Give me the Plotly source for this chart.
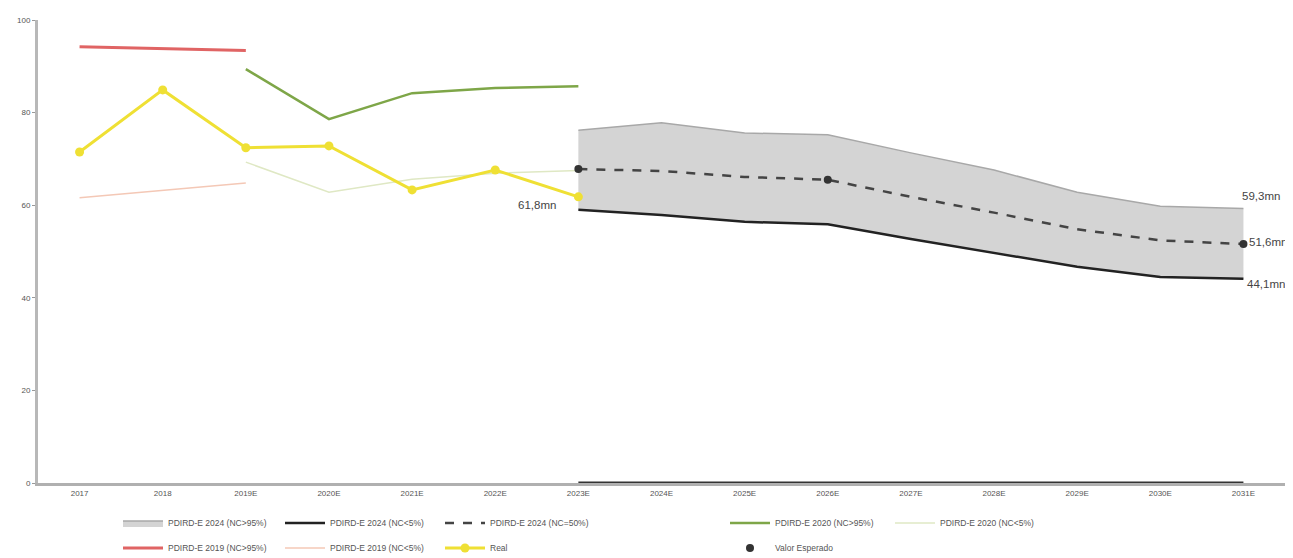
import plotly.graph_objects as go

years = ["2017", "2018", "2019E", "2020E", "2021E", "2022E", "2023E", "2024E",
         "2025E", "2026E", "2027E", "2028E", "2029E", "2030E", "2031E"]

hist_x = years[0:3]
p2019_hi = [94.2, 93.8, 93.4]
p2019_lo = [61.6, 63.2, 64.8]

p2020_x = years[2:7]
p2020_hi = [89.4, 78.6, 84.2, 85.3, 85.7]
p2020_lo = [69.3, 62.8, 65.6, 66.9, 67.5]

real_x = years[0:7]
real_v = [71.5, 84.9, 72.4, 72.8, 63.3, 67.6, 61.8]

fc_x = years[6:]
p2024_hi = [76.2, 77.8, 75.6, 75.2, 71.3, 67.6, 62.8, 59.8, 59.3]
p2024_lo = [59.0, 57.9, 56.4, 55.9, 52.7, 49.7, 46.7, 44.5, 44.1]
p2024_mid = [67.8, 67.4, 66.1, 65.5, 61.8, 58.4, 54.8, 52.4, 51.6]
base_v = [0, 0, 0, 0, 0, 0, 0, 0, 0]

exp_x = ["2023E", "2026E", "2031E"]
exp_v = [67.8, 65.5, 51.6]

fig = go.Figure()

fig.add_trace(go.Scatter(x=fc_x, y=base_v, mode="lines", showlegend=False,
                         line=dict(color="#333333", width=3), hoverinfo="skip"))
fig.add_trace(go.Scatter(x=fc_x, y=p2024_lo, mode="lines", name="PDIRD-E 2024 (NC<5%)",
                         legend="legend2", line=dict(color="#222222", width=2.5)))
fig.add_trace(go.Scatter(x=fc_x, y=p2024_hi, mode="lines", name="PDIRD-E 2024 (NC>95%)",
                         legend="legend", fill="tonexty", fillcolor="#d4d4d4",
                         line=dict(color="#a8a8a8", width=1.5)))
fig.add_trace(go.Scatter(x=fc_x, y=p2024_mid, mode="lines", name="PDIRD-E 2024 (NC=50%)",
                         legend="legend3", line=dict(color="#444444", width=2.5, dash="dash")))
fig.add_trace(go.Scatter(x=p2020_x, y=p2020_hi, mode="lines", name="PDIRD-E 2020 (NC>95%)",
                         legend="legend4", line=dict(color="#7ea648", width=2.5)))
fig.add_trace(go.Scatter(x=p2020_x, y=p2020_lo, mode="lines", name="PDIRD-E 2020 (NC<5%)",
                         legend="legend5", line=dict(color="#dfe8c4", width=1.5)))
fig.add_trace(go.Scatter(x=hist_x, y=p2019_hi, mode="lines", name="PDIRD-E 2019 (NC>95%)",
                         legend="legend6", line=dict(color="#e06464", width=3)))
fig.add_trace(go.Scatter(x=hist_x, y=p2019_lo, mode="lines", name="PDIRD-E 2019 (NC<5%)",
                         legend="legend7", line=dict(color="#f4c8b6", width=1.5)))
fig.add_trace(go.Scatter(x=real_x, y=real_v, mode="lines+markers", name="Real",
                         legend="legend8", line=dict(color="#efe034", width=3),
                         marker=dict(color="#efe034", size=9)))
fig.add_trace(go.Scatter(x=exp_x, y=exp_v, mode="markers", name="Valor Esperado",
                         legend="legend9", marker=dict(color="#333333", size=8)))

afont = dict(size=11.5, color="#444")
fig.add_annotation(x="2023E", y=real_v[-1], text="61,8mn", showarrow=False,
                   xanchor="right", xshift=-20, yshift=-8, font=afont)
fig.add_annotation(x="2031E", y=p2024_hi[-1], text="59,3mn", showarrow=False,
                   xanchor="left", xshift=-3, yshift=12, font=afont)
fig.add_annotation(x="2031E", y=p2024_mid[-1], text="51,6mn", showarrow=False,
                   xanchor="left", xshift=4, yshift=2, font=afont)
fig.add_annotation(x="2031E", y=p2024_lo[-1], text="44,1mn", showarrow=False,
                   xanchor="left", xshift=2, yshift=-5, font=afont)

# page body has an 8px margin: figure is drawn 8px right/down of the window corner
OFF = 8
W, H = 1293 - OFF, 558 - OFF
row1 = 1 - (523 - OFF) / H
row2 = 1 - (548 - OFF) / H
leg_pos = {
    "legend": (123, row1), "legend2": (285, row1), "legend3": (445, row1),
    "legend4": (730, row1), "legend5": (895, row1),
    "legend6": (123, row2), "legend7": (285, row2), "legend8": (445, row2),
    "legend9": (730, row2),
}
legs = {}
for k, (px, yy) in leg_pos.items():
    legs[k] = dict(xref="container", yref="container", x=(px - OFF - 5) / W, y=yy,
                   xanchor="left", yanchor="middle", orientation="h",
                   bgcolor="rgba(0,0,0,0)", itemwidth=40,
                   font=dict(size=8.5, color="#555555"))

fig.update_layout(
    width=W, height=H,
    margin=dict(l=38 - OFF, r=16 - OFF, t=20 - OFF, b=75),
    paper_bgcolor="white", plot_bgcolor="white",
    font=dict(family="Liberation Sans, Arial", size=8, color="#555555"),
    showlegend=True,
    **legs,
)
fig.update_xaxes(type="category", categoryorder="array", categoryarray=years,
                 range=[-0.5, 14.5], automargin=False,
                 showline=True, linecolor="#b0b0b0", linewidth=3, showgrid=False,
                 ticks="", tickfont=dict(size=8, color="#555"), zeroline=False)
fig.update_yaxes(range=[0, 100], tickvals=[0, 20, 40, 60, 80, 100], automargin=False,
                 showline=True, linecolor="#b8b8b8", linewidth=3, showgrid=False,
                 ticks="outside", ticklen=3, tickcolor="#999", zeroline=False,
                 tickfont=dict(size=8, color="#555"))

fig.write_html("out.html")
